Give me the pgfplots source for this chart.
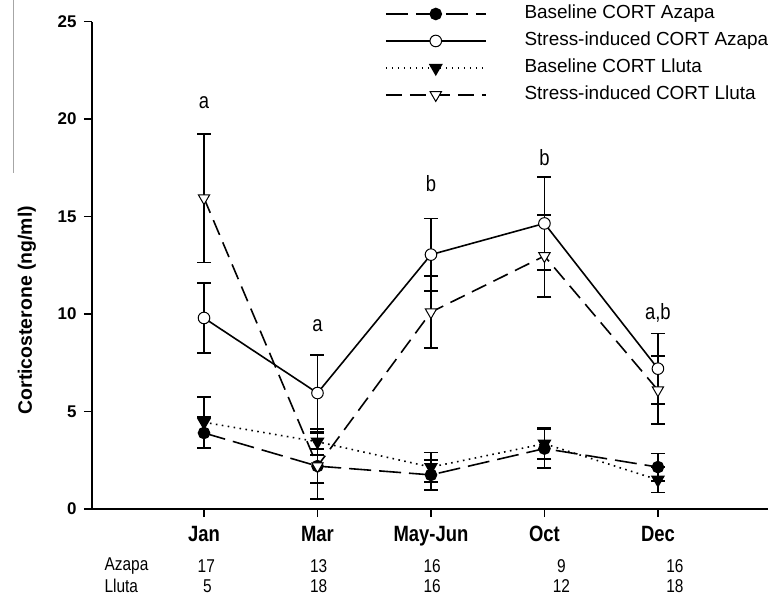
\documentclass[border=0pt]{standalone}
\usepackage{fontspec}
\setmainfont{Liberation Sans}
\usepackage{graphicx}
\usepackage{pgfplots}
\pgfplotsset{compat=1.18}
\newcommand{\st}[1]{\scalebox{1}[1.2]{#1}}
\begin{document}
\begin{tikzpicture}
\begin{axis}[
  at={(92bp,87bp)}, anchor=south west,
  scale only axis, width=676bp, height=487.3bp,
  xmin=-0.987, xmax=4.97, ymin=0, ymax=25,
  clip=false,
  axis x line*=bottom, axis y line*=left,
  x axis line style={-, line width=2.4bp},
  y axis line style={-, line width=1.6bp},
  xtick={0,1,2,3,4}, xticklabels={\st{Jan},\st{Mar},\st{May-Jun},\st{Oct},\st{Dec}},
  ytick={0,5,10,15,20,25},
  tick align=outside, major tick length=8bp,
  tick style={line width=1.4bp, black},
  /pgf/number format/assume math mode=true,
  yticklabel style={font=\bfseries\fontsize{17}{19}\selectfont, xshift=-4bp},
  xticklabel style={font=\bfseries\fontsize{18.5}{20}\selectfont, yshift=-6bp},
  ylabel={Corticosterone (ng/ml)},
  ylabel style={font=\bfseries\fontsize{19.5}{22}\selectfont, at={(axis description cs:-0.0962,0.408)}, anchor=center},
  legend style={draw=none, fill=none, at={(axis description cs:0.4334,1.0343)}, anchor=north west,
    inner sep=0pt, outer sep=0pt, row sep=9bp, font=\fontsize{19}{21}\selectfont,
    nodes={inner sep=0pt, text height=14bp, text depth=4bp}},
  legend cell align=left,
  legend image code/.code={\draw[mark repeat=2,mark phase=2,#1] plot coordinates {(0bp,0bp) (50bp,0bp) (100bp,0bp)}; \path (138bp,0bp);},
  error bars/y dir=both, error bars/y explicit,
  error bars/error bar style={line width=1.8bp, solid, black},
  error bars/error mark options={rotate=90, mark size=7bp, line width=1.8bp, solid, black},
]
% Baseline CORT Azapa
\addplot[black, line width=1.6bp, dash pattern=on 22bp off 8bp, mark=*, mark size=5.5bp, mark options={solid, fill=black}]
  coordinates {(0,3.9) +- (0,0.8) (1,2.2) +- (0,0.88) (2,1.75) +- (0,0.77) (3,3.1) +- (0,1.0) (4,2.15) +- (0,0.7)};
\addlegendentry{Baseline CORT Azapa}
% Stress-induced CORT Azapa
\addplot[black, line width=1.6bp, solid, mark=*, mark size=5.8bp, mark options={solid, fill=white, line width=1bp}]
  coordinates {(0,9.8) +- (0,1.78) (1,5.95) +- (0,1.97) (2,13.05) +- (0,1.85) (3,14.65) +- (0,2.4) (4,7.2) +- (0,1.8)};
\addlegendentry{Stress-induced CORT Azapa}
% Baseline CORT Lluta
\addplot[black, line width=1.6bp, dash pattern=on 1.6bp off 4.4bp, mark=triangle*, mark size=6.5bp, mark options={solid, fill=black, rotate=180}]
  coordinates {(0,4.45) +- (0,1.3) (1,3.45) +- (0,0.67) (2,2.15) +- (0,0.75) (3,3.35) +- (0,0.8) (4,1.5) +- (0,0.65)};
\addlegendentry{Baseline CORT Lluta}
% Stress-induced CORT Lluta
\addplot[black, line width=1.6bp, dash pattern=on 16bp off 8bp, mark=triangle*, mark size=6.5bp, mark options={solid, fill=white, rotate=180, line width=1bp}]
  coordinates {(0,15.95) +- (0,3.3) (1,2.2) +- (0,1.7) (2,10.1) +- (0,1.85) (3,12.98) +- (0,2.1) (4,6.1) +- (0,1.75)};
\addlegendentry{Stress-induced CORT Lluta}
% significance letters
\node[font=\fontsize{18.5}{20}\selectfont] at (axis cs:0,20.85) {\st{a}};
\node[font=\fontsize{18.5}{20}\selectfont] at (axis cs:1,9.4) {\st{a}};
\node[font=\fontsize{18.5}{20}\selectfont] at (axis cs:2,16.7) {\st{b}};
\node[font=\fontsize{18.5}{20}\selectfont] at (axis cs:3,18.05) {\st{b}};
\node[font=\fontsize{18.5}{20}\selectfont] at (axis cs:4,10.05) {\st{a,b}};
% sample sizes
\node[font=\fontsize{15.5}{17}\selectfont, anchor=west] at (axis cs:-0.907,-2.92) {\st{Azapa}};
\node[font=\fontsize{15.5}{17}\selectfont, anchor=west] at (axis cs:-0.907,-3.95) {\st{Lluta}};
\node[font=\fontsize{15.5}{17}\selectfont] at (axis cs:0.02,-2.92) {\st{17}};
\node[font=\fontsize{15.5}{17}\selectfont] at (axis cs:1.01,-2.92) {\st{13}};
\node[font=\fontsize{15.5}{17}\selectfont] at (axis cs:2.01,-2.92) {\st{16}};
\node[font=\fontsize{15.5}{17}\selectfont] at (axis cs:3.15,-2.92) {\st{9}};
\node[font=\fontsize{15.5}{17}\selectfont] at (axis cs:4.15,-2.92) {\st{16}};
\node[font=\fontsize{15.5}{17}\selectfont] at (axis cs:0.03,-3.95) {\st{5}};
\node[font=\fontsize{15.5}{17}\selectfont] at (axis cs:1.01,-3.95) {\st{18}};
\node[font=\fontsize{15.5}{17}\selectfont] at (axis cs:2.01,-3.95) {\st{16}};
\node[font=\fontsize{15.5}{17}\selectfont] at (axis cs:3.15,-3.95) {\st{12}};
\node[font=\fontsize{15.5}{17}\selectfont] at (axis cs:4.15,-3.95) {\st{18}};
\end{axis}
\draw[gray!70, line width=0.8bp] (13bp,596bp) -- (13bp,423bp);
\pgfresetboundingbox
\useasboundingbox (0,0) rectangle (771bp,596bp);
\end{tikzpicture}
\end{document}
